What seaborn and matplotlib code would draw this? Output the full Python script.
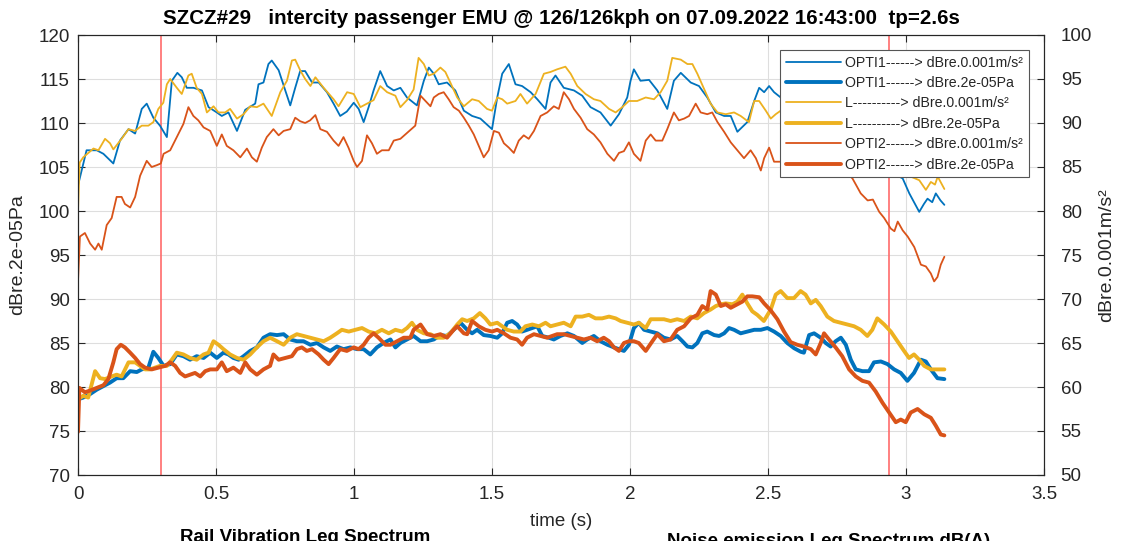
import matplotlib
matplotlib.use("Agg")
import matplotlib.pyplot as plt
import seaborn as sns
from matplotlib.lines import Line2D

# ---------------- data ----------------
title = "SZCZ#29   intercity passenger EMU @ 126/126kph on 07.09.2022 16:43:00  tp=2.6s"

xticks = [0, 0.5, 1, 1.5, 2, 2.5, 3, 3.5]
xtick_labels = ["0", "0.5", "1", "1.5", "2", "2.5", "3", "3.5"]
noise_ticks = [70, 75, 80, 85, 90, 95, 100, 105, 110, 115, 120]
vib_ticks = [50, 55, 60, 65, 70, 75, 80, 85, 90, 95, 100]
pass_marks = [0.30, 2.94]  # first / last axle passing (s)

# rail vibration, OPTI1 (dB re 0.001 m/s²)
opti1_vib_t = [0.000, 0.031, 0.068, 0.092, 0.128, 0.152, 0.183, 0.207, 0.231, 0.249,
               0.273, 0.297, 0.322, 0.340, 0.360, 0.376, 0.394, 0.418, 0.449, 0.473,
               0.503, 0.521, 0.545, 0.576, 0.606, 0.642, 0.654, 0.672, 0.690, 0.702,
               0.727, 0.751, 0.769, 0.787, 0.805, 0.823, 0.848, 0.872, 0.902, 0.926,
               0.950, 0.974, 0.999, 1.017, 1.035, 1.053, 1.071, 1.095, 1.120, 1.144,
               1.168, 1.192, 1.228, 1.253, 1.271, 1.289, 1.307, 1.337, 1.367, 1.398,
               1.428, 1.458, 1.500, 1.519, 1.537, 1.561, 1.585, 1.609, 1.640, 1.664,
               1.694, 1.712, 1.730, 1.760, 1.797, 1.827, 1.857, 1.893, 1.930, 1.960,
               1.990, 2.002, 2.014, 2.038, 2.069, 2.099, 2.135, 2.159, 2.184, 2.220,
               2.250, 2.280, 2.311, 2.341, 2.365, 2.389, 2.425, 2.450, 2.468, 2.486,
               2.504, 2.522, 2.546, 2.580, 2.620, 2.660, 2.700, 2.740, 2.780, 2.820,
               2.860, 2.900, 2.940, 2.988, 3.012, 3.048, 3.065, 3.078, 3.095, 3.108,
               3.125, 3.139]
opti1_vib = [82.9, 86.9, 86.9, 86.5, 85.4, 88.0, 89.3, 88.8, 91.6, 92.2,
             90.6, 89.7, 88.4, 94.8, 95.7, 95.2, 94.0, 94.0, 93.7, 91.8,
             91.2, 90.8, 91.2, 89.1, 91.5, 92.2, 94.4, 94.6, 96.7, 97.1,
             96.0, 93.7, 92.0, 94.0, 95.9, 95.9, 94.6, 94.6, 93.5, 92.2,
             90.8, 91.3, 92.3, 91.6, 90.1, 91.8, 93.7, 95.9, 94.2, 93.7,
             94.0, 92.9, 92.0, 94.8, 96.3, 95.6, 94.4, 94.6, 93.7, 91.4,
             90.8, 90.5, 89.3, 92.9, 95.6, 96.7, 94.4, 94.2, 93.5, 92.7,
             91.6, 94.6, 95.4, 94.0, 93.7, 93.1, 91.8, 91.2, 89.7, 91.0,
             92.9, 94.8, 96.1, 94.8, 94.9, 93.7, 91.6, 94.8, 95.7, 94.6,
             94.2, 92.9, 91.2, 90.8, 90.8, 89.0, 90.1, 92.5, 94.0, 93.5,
             94.2, 93.5, 92.9, 92.0, 93.0, 91.5, 90.5, 91.0, 89.0, 87.5,
             86.5, 85.5, 84.5, 83.7, 82.0, 79.9, 80.8, 81.4, 81.0, 82.0,
             81.2, 80.7]

# rail vibration, L (dB re 0.001 m/s²)
l_vib_t = [0.000, 0.006, 0.019, 0.056, 0.074, 0.098, 0.116, 0.128, 0.158, 0.183,
           0.207, 0.231, 0.255, 0.273, 0.291, 0.309, 0.322, 0.334, 0.358, 0.376,
           0.400, 0.412, 0.430, 0.449, 0.467, 0.491, 0.509, 0.533, 0.551, 0.576,
           0.600, 0.624, 0.648, 0.672, 0.702, 0.733, 0.757, 0.775, 0.787, 0.805,
           0.823, 0.842, 0.860, 0.890, 0.926, 0.944, 0.975, 0.999, 1.023, 1.047,
           1.071, 1.095, 1.120, 1.150, 1.168, 1.192, 1.216, 1.234, 1.253, 1.271,
           1.289, 1.313, 1.331, 1.349, 1.374, 1.398, 1.428, 1.452, 1.482, 1.500,
           1.519, 1.537, 1.555, 1.585, 1.603, 1.627, 1.658, 1.688, 1.712, 1.736,
           1.766, 1.785, 1.809, 1.839, 1.869, 1.893, 1.924, 1.948, 1.972, 1.996,
           2.026, 2.057, 2.087, 2.111, 2.135, 2.153, 2.184, 2.208, 2.226, 2.244,
           2.268, 2.292, 2.317, 2.347, 2.377, 2.401, 2.431, 2.450, 2.468, 2.492,
           2.510, 2.528, 2.546, 2.580, 2.620, 2.660, 2.700, 2.740, 2.780, 2.820,
           2.860, 2.900, 2.940, 2.980, 3.010, 3.048, 3.072, 3.090, 3.105, 3.115,
           3.139]
l_vib = [80.0, 85.5, 86.1, 87.1, 86.9, 88.2, 87.7, 87.0, 88.2, 89.3,
         89.1, 89.7, 89.7, 90.1, 91.6, 92.3, 94.4, 95.0, 94.0, 93.3,
         95.4, 95.6, 94.0, 93.3, 91.2, 91.9, 91.2, 91.2, 91.6, 90.5,
         91.0, 91.9, 91.8, 92.2, 90.8, 93.5, 94.8, 97.1, 97.2, 96.0,
         95.0, 94.2, 95.2, 94.0, 92.7, 91.9, 93.5, 93.3, 91.8, 92.2,
         92.6, 94.2, 93.5, 93.1, 91.8, 92.6, 93.8, 97.4, 96.7, 95.4,
         95.6, 96.3, 95.8, 94.6, 92.9, 91.9, 92.7, 92.5, 91.6, 91.4,
         92.9, 92.7, 92.2, 92.5, 93.3, 92.2, 93.3, 95.6, 95.8, 96.1,
         96.4, 95.6, 94.2, 93.3, 92.7, 92.5, 91.6, 91.2, 91.8, 92.5,
         92.5, 92.9, 92.7, 93.5, 94.8, 97.4, 97.2, 96.7, 96.7, 95.6,
         93.9, 92.2, 91.2, 91.0, 91.2, 90.8, 90.1, 92.5, 92.5, 91.4,
         90.5, 91.0, 91.4, 92.0, 91.0, 90.0, 89.5, 88.5, 88.0, 87.0,
         86.5, 86.0, 85.5, 84.5, 84.0, 83.5, 82.4, 83.3, 83.0, 83.9,
         82.5]

# rail vibration, OPTI2 (dB re 0.001 m/s²)
opti2_vib_t = [0.000, 0.007, 0.025, 0.044, 0.062, 0.074, 0.086, 0.104, 0.122, 0.140,
               0.158, 0.170, 0.189, 0.207, 0.225, 0.249, 0.267, 0.285, 0.300, 0.310,
               0.334, 0.358, 0.382, 0.400, 0.418, 0.436, 0.455, 0.479, 0.503, 0.521,
               0.539, 0.563, 0.588, 0.612, 0.630, 0.648, 0.666, 0.684, 0.708, 0.727,
               0.745, 0.769, 0.787, 0.805, 0.823, 0.841, 0.860, 0.878, 0.902, 0.926,
               0.944, 0.962, 0.980, 0.999, 1.011, 1.029, 1.047, 1.065, 1.083, 1.101,
               1.126, 1.144, 1.168, 1.186, 1.204, 1.222, 1.241, 1.259, 1.277, 1.289,
               1.307, 1.325, 1.343, 1.361, 1.380, 1.398, 1.416, 1.434, 1.452, 1.470,
               1.488, 1.507, 1.525, 1.543, 1.561, 1.579, 1.597, 1.615, 1.633, 1.652,
               1.676, 1.700, 1.724, 1.742, 1.760, 1.779, 1.797, 1.821, 1.845, 1.869,
               1.893, 1.918, 1.942, 1.960, 1.978, 1.996, 2.014, 2.038, 2.057, 2.075,
               2.093, 2.117, 2.135, 2.159, 2.177, 2.196, 2.214, 2.238, 2.256, 2.280,
               2.298, 2.317, 2.341, 2.365, 2.389, 2.413, 2.437, 2.456, 2.474, 2.486,
               2.504, 2.522, 2.546, 2.580, 2.620, 2.660, 2.700, 2.740, 2.780, 2.806,
               2.836, 2.861, 2.880, 2.903, 2.921, 2.945, 2.958, 2.970, 2.988, 3.006,
               3.030, 3.054, 3.072, 3.090, 3.102, 3.114, 3.126, 3.139]
opti2_vib = [72.0, 77.1, 77.5, 76.3, 75.6, 76.3, 75.6, 78.4, 79.2, 81.6,
             81.6, 80.8, 80.4, 81.6, 84.0, 85.7, 85.0, 85.2, 85.4, 86.5,
             86.9, 88.4, 89.9, 91.8, 90.8, 90.3, 89.5, 89.1, 87.4, 88.7,
             87.4, 86.9, 86.1, 87.1, 86.1, 85.6, 87.2, 88.4, 89.3, 88.6,
             89.1, 89.3, 90.6, 90.2, 90.0, 90.3, 90.9, 89.3, 89.0, 88.0,
             87.4, 88.4, 87.2, 85.7, 85.0, 85.7, 88.6, 87.7, 86.5, 86.9,
             86.9, 88.0, 88.2, 88.7, 89.2, 89.7, 93.1, 92.5, 91.9, 92.9,
             93.3, 93.5, 92.7, 91.8, 91.4, 90.6, 89.7, 88.7, 87.4, 86.1,
             86.9, 89.1, 88.9, 87.7, 87.2, 86.6, 88.0, 88.6, 88.2, 89.1,
             90.8, 91.2, 91.9, 91.6, 93.5, 92.7, 91.6, 90.6, 89.3, 88.7,
             87.8, 86.5, 85.7, 86.6, 86.8, 87.8, 86.5, 85.7, 88.0, 88.7,
             88.0, 88.0, 89.3, 91.2, 90.3, 90.5, 90.8, 92.2, 91.2, 91.0,
             91.2, 90.1, 89.0, 87.8, 86.9, 86.0, 86.9, 86.0, 84.6, 86.0,
             87.2, 85.6, 85.6, 86.0, 85.3, 85.8, 85.0, 84.8, 84.5, 83.7,
             82.0, 81.2, 81.3, 79.9, 79.2, 78.0, 77.7, 78.8, 77.8, 77.1,
             75.9, 73.9, 73.7, 72.9, 72.0, 72.5, 73.9, 74.8]

# noise emission, OPTI1 (dB re 2e-05 Pa)
opti1_noise_t = [0.000, 0.019, 0.044, 0.068, 0.092, 0.116, 0.140, 0.164, 0.189, 0.213,
                 0.231, 0.255, 0.273, 0.291, 0.310, 0.334, 0.358, 0.382, 0.406, 0.430,
                 0.455, 0.479, 0.503, 0.527, 0.545, 0.563, 0.582, 0.600, 0.624, 0.648,
                 0.672, 0.696, 0.721, 0.745, 0.769, 0.793, 0.817, 0.842, 0.866, 0.890,
                 0.914, 0.938, 0.962, 0.987, 1.011, 1.035, 1.059, 1.083, 1.107, 1.132,
                 1.150, 1.168, 1.192, 1.216, 1.241, 1.265, 1.289, 1.313, 1.337, 1.361,
                 1.386, 1.410, 1.428, 1.446, 1.470, 1.494, 1.519, 1.537, 1.555, 1.573,
                 1.591, 1.609, 1.627, 1.646, 1.664, 1.682, 1.706, 1.724, 1.748, 1.773,
                 1.797, 1.827, 1.845, 1.869, 1.893, 1.918, 1.942, 1.960, 1.978, 1.996,
                 2.014, 2.032, 2.051, 2.075, 2.099, 2.123, 2.147, 2.171, 2.190, 2.208,
                 2.226, 2.244, 2.262, 2.280, 2.305, 2.323, 2.341, 2.359, 2.377, 2.401,
                 2.425, 2.450, 2.474, 2.498, 2.522, 2.546, 2.570, 2.595, 2.619, 2.630,
                 2.649, 2.667, 2.691, 2.709, 2.727, 2.745, 2.764, 2.782, 2.800, 2.818,
                 2.842, 2.866, 2.884, 2.909, 2.933, 2.957, 2.981, 3.005, 3.029, 3.054,
                 3.072, 3.090, 3.114, 3.139]
opti1_noise = [78.6, 78.8, 79.2, 79.7, 80.1, 80.5, 81.0, 81.0, 81.8, 81.7,
               82.0, 82.2, 84.0, 83.3, 82.4, 82.6, 83.7, 83.5, 83.1, 83.5,
               83.3, 83.9, 83.3, 83.9, 83.7, 83.3, 83.1, 83.5, 84.1, 84.5,
               85.6, 86.0, 85.9, 86.0, 85.4, 85.2, 85.2, 84.8, 85.0, 84.5,
               84.1, 84.6, 84.3, 84.5, 84.3, 84.3, 83.7, 84.5, 85.0, 85.4,
               84.5, 85.0, 85.4, 85.8, 85.2, 85.2, 85.4, 85.9, 85.8, 86.5,
               87.3, 86.5, 86.1, 86.5, 85.9, 85.8, 85.6, 86.1, 87.3, 87.5,
               87.1, 86.3, 86.5, 86.7, 86.9, 85.8, 85.6, 85.4, 85.8, 86.1,
               85.8, 85.0, 85.4, 85.8, 85.2, 84.8, 84.5, 84.3, 84.1, 84.8,
               86.7, 87.3, 86.5, 86.3, 86.1, 85.6, 85.4, 85.8, 85.2, 84.6,
               84.5, 85.0, 86.1, 86.3, 85.9, 85.8, 86.1, 86.7, 86.5, 86.1,
               86.3, 86.5, 86.5, 86.7, 86.3, 85.8, 85.0, 84.4, 84.0, 83.9,
               85.9, 86.1, 85.6, 85.0, 84.6, 85.2, 85.6, 84.8, 83.1, 82.0,
               81.8, 81.8, 82.8, 82.9, 82.6, 82.0, 81.6, 80.7, 81.6, 83.1,
               82.9, 82.0, 81.0, 80.9]

# noise emission, L (dB re 2e-05 Pa)
l_noise_t = [0.000, 0.019, 0.037, 0.062, 0.080, 0.098, 0.122, 0.140, 0.158, 0.183,
             0.207, 0.225, 0.243, 0.261, 0.279, 0.297, 0.322, 0.340, 0.358, 0.382,
             0.406, 0.430, 0.455, 0.473, 0.491, 0.509, 0.527, 0.551, 0.576, 0.600,
             0.624, 0.648, 0.672, 0.696, 0.721, 0.745, 0.769, 0.793, 0.817, 0.842,
             0.866, 0.890, 0.914, 0.938, 0.956, 0.981, 1.005, 1.029, 1.053, 1.077,
             1.101, 1.126, 1.150, 1.174, 1.192, 1.210, 1.228, 1.253, 1.277, 1.301,
             1.325, 1.349, 1.374, 1.392, 1.410, 1.434, 1.456, 1.476, 1.494, 1.519,
             1.537, 1.555, 1.579, 1.603, 1.621, 1.646, 1.670, 1.694, 1.712, 1.736,
             1.760, 1.785, 1.803, 1.827, 1.851, 1.875, 1.899, 1.924, 1.948, 1.966,
             1.990, 2.014, 2.032, 2.057, 2.075, 2.099, 2.123, 2.147, 2.171, 2.196,
             2.220, 2.244, 2.268, 2.292, 2.311, 2.329, 2.347, 2.371, 2.389, 2.407,
             2.425, 2.443, 2.461, 2.485, 2.510, 2.528, 2.546, 2.570, 2.594, 2.618,
             2.636, 2.655, 2.673, 2.691, 2.715, 2.739, 2.764, 2.788, 2.812, 2.836,
             2.860, 2.878, 2.896, 2.921, 2.945, 2.969, 2.993, 3.011, 3.029, 3.048,
             3.066, 3.090, 3.114, 3.139]
l_noise = [78.6, 79.0, 78.8, 81.8, 81.0, 80.9, 81.2, 81.4, 81.2, 82.8,
           82.8, 82.4, 82.0, 82.0, 82.2, 82.4, 82.4, 83.1, 83.9, 83.7,
           83.3, 83.1, 83.7, 83.9, 85.2, 84.8, 84.3, 83.7, 83.3, 83.1,
           83.7, 84.5, 85.2, 85.6, 85.2, 84.8, 85.6, 86.0, 85.8, 85.6,
           85.4, 85.2, 85.6, 86.1, 86.5, 86.3, 86.5, 86.7, 86.3, 86.1,
           86.5, 86.1, 86.5, 86.3, 86.7, 87.3, 86.5, 86.1, 86.0, 85.6,
           85.6, 86.1, 87.1, 87.7, 87.5, 87.8, 88.4, 87.8, 87.1, 87.3,
           86.9, 86.5, 86.3, 86.3, 86.9, 87.1, 86.9, 87.3, 86.9, 87.1,
           87.3, 86.9, 88.0, 88.0, 88.2, 87.8, 87.8, 88.0, 87.8, 87.5,
           87.3, 87.1, 87.3, 86.7, 87.7, 87.7, 87.7, 87.5, 87.7, 87.5,
           88.0, 87.8, 88.4, 88.8, 89.2, 89.4, 89.5, 89.4, 89.7, 90.5,
           89.5, 88.6, 88.2, 87.5, 88.8, 90.5, 90.9, 90.1, 90.1, 90.9,
           90.5, 89.5, 89.9, 89.2, 88.0, 87.5, 87.3, 87.1, 86.9, 86.5,
           85.8, 86.5, 87.8, 87.1, 86.3, 85.2, 84.1, 83.3, 83.7, 83.1,
           82.4, 82.0, 82.0, 82.0]

# noise emission, OPTI2 (dB re 2e-05 Pa)
opti2_noise_t = [0.000, 0.005, 0.025, 0.044, 0.068, 0.092, 0.110, 0.128, 0.140, 0.155,
                 0.170, 0.189, 0.207, 0.225, 0.243, 0.267, 0.291, 0.316, 0.334, 0.352,
                 0.370, 0.388, 0.406, 0.424, 0.443, 0.461, 0.479, 0.503, 0.521, 0.539,
                 0.563, 0.588, 0.606, 0.624, 0.648, 0.672, 0.696, 0.708, 0.727, 0.751,
                 0.775, 0.793, 0.811, 0.829, 0.848, 0.872, 0.890, 0.908, 0.926, 0.950,
                 0.974, 0.999, 1.017, 1.035, 1.053, 1.071, 1.089, 1.114, 1.132, 1.156,
                 1.180, 1.204, 1.216, 1.241, 1.265, 1.289, 1.313, 1.337, 1.361, 1.374,
                 1.398, 1.410, 1.428, 1.452, 1.476, 1.500, 1.519, 1.543, 1.567, 1.591,
                 1.609, 1.627, 1.652, 1.676, 1.700, 1.718, 1.736, 1.760, 1.785, 1.809,
                 1.833, 1.857, 1.881, 1.905, 1.924, 1.942, 1.960, 1.978, 1.996, 2.014,
                 2.032, 2.057, 2.081, 2.099, 2.123, 2.147, 2.171, 2.196, 2.220, 2.244,
                 2.262, 2.280, 2.292, 2.311, 2.329, 2.347, 2.365, 2.389, 2.407, 2.425,
                 2.443, 2.468, 2.486, 2.510, 2.534, 2.558, 2.582, 2.606, 2.630, 2.655,
                 2.673, 2.691, 2.703, 2.721, 2.745, 2.769, 2.794, 2.818, 2.842, 2.866,
                 2.890, 2.915, 2.939, 2.963, 2.981, 2.999, 3.017, 3.042, 3.066, 3.090,
                 3.108, 3.126, 3.139]
opti2_noise = [74.9, 79.9, 79.4, 79.6, 79.9, 80.2, 80.9, 82.8, 84.3, 84.8,
               84.5, 83.9, 83.3, 82.6, 82.2, 82.0, 82.2, 82.4, 82.8, 82.4,
               81.6, 81.2, 81.4, 81.6, 81.2, 81.8, 82.0, 82.0, 82.8, 81.8,
               82.2, 81.6, 82.8, 82.0, 81.4, 82.0, 82.4, 83.7, 83.1, 83.3,
               83.5, 84.3, 84.5, 84.1, 84.3, 83.7, 83.1, 82.6, 83.3, 84.3,
               84.1, 84.5, 84.3, 84.8, 85.6, 86.1, 85.6, 84.8, 84.8, 85.2,
               85.6, 85.6, 86.5, 87.1, 86.0, 85.8, 86.0, 85.6, 86.5, 86.9,
               86.1, 86.0, 87.5, 86.9, 86.5, 86.3, 86.5, 86.1, 85.6, 85.4,
               84.8, 85.6, 86.0, 85.8, 85.6, 85.8, 86.0, 86.0, 85.8, 85.6,
               85.4, 85.6, 85.2, 85.6, 85.2, 84.5, 84.1, 85.0, 85.2, 85.2,
               85.0, 84.1, 85.2, 86.0, 85.2, 85.4, 86.5, 86.9, 87.8, 88.2,
               89.2, 88.8, 90.9, 90.5, 89.2, 89.4, 89.0, 89.4, 89.7, 90.3,
               90.3, 90.2, 89.5, 88.7, 87.7, 86.3, 85.1, 84.8, 84.6, 84.3,
               83.7, 85.0, 86.1, 85.4, 84.5, 83.5, 82.0, 81.2, 80.7, 80.5,
               79.5, 78.2, 77.1, 76.0, 76.3, 76.0, 77.1, 77.5, 76.9, 76.5,
               75.6, 74.6, 74.5]

# ---------------- style ----------------
sns.set_style("white")
plt.rcParams["font.family"] = ["Liberation Sans", "DejaVu Sans"]

BLUE = "#0072BD"
ORANGE = "#D95319"
YELLOW = "#EDB120"
INK = "#262626"
THIN, THICK = 1.3, 2.8

W, H = 1124, 541
fig = plt.figure(figsize=(W / 100, H / 100), dpi=100)
ax_l, ax_r, ax_t, ax_b = 78, 1044, 35, 475
ax = fig.add_axes([ax_l / W, 1 - ax_b / H, (ax_r - ax_l) / W, (ax_b - ax_t) / H])
ax2 = ax.twinx()

# legend order; thin = vibration (right axis), thick = noise (left axis)
series = [
    ("OPTI1------> dBre.0.001m/s²", opti1_vib_t, opti1_vib, ax2, BLUE, THIN),
    ("OPTI1------> dBre.2e-05Pa", opti1_noise_t, opti1_noise, ax, BLUE, THICK),
    ("L----------> dBre.0.001m/s²", l_vib_t, l_vib, ax2, YELLOW, THIN),
    ("L----------> dBre.2e-05Pa", l_noise_t, l_noise, ax, YELLOW, THICK),
    ("OPTI2------> dBre.0.001m/s²", opti2_vib_t, opti2_vib, ax2, ORANGE, THIN),
    ("OPTI2------> dBre.2e-05Pa", opti2_noise_t, opti2_noise, ax, ORANGE, THICK),
]

for tm in pass_marks:
    ax.axvline(tm, color="#ff6b6b", lw=1.2, zorder=1.5)

handles, labels = [], []
for label, t, v, target, color, lw in series:
    sns.lineplot(x=t, y=v, ax=target, color=color, linewidth=lw,
                 estimator=None, sort=False, legend=False)
    handles.append(Line2D([], [], color=color, lw=lw))
    labels.append(label)

# ---------------- axes ----------------
ax.set_xlim(0, 3.5)
ax.set_xticks(xticks)
ax.set_xticklabels(xtick_labels)
ax.set_ylim(70, 120)
ax.set_yticks(noise_ticks)
ax2.set_ylim(50, 100)
ax2.set_yticks(vib_ticks)

ax.grid(True, color="#dedede", lw=0.8)
ax.set_axisbelow(True)
ax2.grid(False)
ax.set_xlabel("")
ax.set_ylabel("")
ax2.set_ylabel("")

TICK_FS = 13.5
ax.tick_params(axis="x", direction="in", bottom=True, top=True, length=5, width=0.8,
               labelsize=TICK_FS, pad=8, color=INK, labelcolor=INK)
ax.tick_params(axis="y", direction="in", left=True, right=False, length=5, width=0.8,
               labelsize=TICK_FS, pad=6, color=INK, labelcolor=INK)
ax2.tick_params(axis="y", direction="in", right=True, left=False, length=5, width=0.8,
                labelsize=TICK_FS, pad=12, color=INK, labelcolor=INK)
for a in (ax, ax2):
    for s in a.spines.values():
        s.set_visible(True)
        s.set_color(INK)
        s.set_linewidth(0.8)

leg = ax2.legend(handles, labels, loc="upper right",
                 bbox_to_anchor=((1029 - ax_l) / (ax_r - ax_l), (ax_b - 50) / (ax_b - ax_t)),
                 borderaxespad=0, fontsize=10.2, frameon=True, fancybox=False,
                 framealpha=1, edgecolor="#555555", handlelength=3.9,
                 handletextpad=0.3, labelspacing=0.45, borderpad=0.4)
leg.get_frame().set_linewidth(0.8)
for txt in leg.get_texts():
    txt.set_color(INK)

# ---------------- texts ----------------
fig.text(561 / W, 1 - 18 / H, title, ha="center", va="center",
         fontsize=14.8, fontweight="bold", color="black")
fig.text(18 / W, 1 - 255 / H, "dBre.2e-05Pa", rotation=90, ha="center",
         va="center", fontsize=14, color=INK)
fig.text(1107 / W, 1 - 255 / H, "dBre.0.001m/s²", rotation=90, ha="center",
         va="center", fontsize=14, color=INK)
fig.text(561 / W, 1 - 522 / H, "time (s)", ha="center", va="center",
         fontsize=13.5, color=INK)
fig.text(305 / W, 1 - 529 / H, "Rail Vibration Leq Spectrum", ha="center",
         va="top", fontsize=13.5, fontweight="bold", color="black")
fig.text(829 / W, 1 - 533 / H, "Noise emission Leq Spectrum dB(A)", ha="center",
         va="top", fontsize=13.5, fontweight="bold", color="black")

fig.savefig("out.png", dpi=100)
